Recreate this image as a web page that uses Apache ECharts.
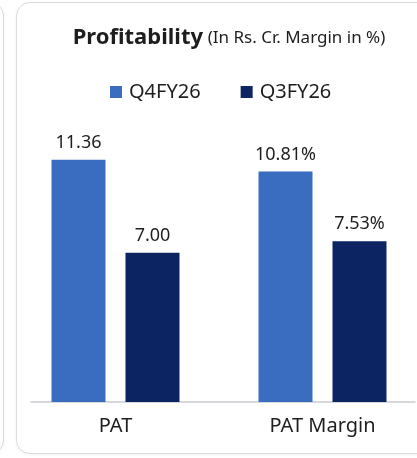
<!DOCTYPE html>
<html>
<head>
<meta charset="utf-8">
<title>Profitability</title>
<script src="https://cdn.jsdelivr.net/npm/echarts@6.0.0/dist/echarts.min.js"></script>
<style>
    html, body {
        margin: 0;
        padding: 0;
        background: #fff;
        overflow: hidden;
    }
    .card {
        position: absolute;
        background: #fff;
        border: 1.5px solid #d8dce2;
        border-radius: 14px;
        box-shadow: 0 1px 3px rgba(0,0,0,0.06);
    }
    #main {
        position: absolute;
        left: 0;
        top: 0;
        width: 417px;
        height: 458px;
    }
</style>
</head>
<body>
<div class="card" style="left:-400px;top:2px;width:402px;height:450px;"></div>
<div class="card" style="left:16px;top:2px;width:430px;height:450px;"></div>
<div id="main"></div>
<script>
    // data
    var categories = ['PAT', 'PAT Margin'];
    var q4Values = [11.36, 10.81];
    var q3Values = [7.00, 7.53];
    var labelSuffix = ['', '%'];
    var seriesNames = ['Q4FY26', 'Q3FY26'];

    var chart = echarts.init(document.getElementById('main'));

    function valueLabel(p) {
        return p.value.toFixed(2) + labelSuffix[p.dataIndex];
    }

    var option = {
        backgroundColor: 'transparent',
        textStyle: { fontFamily: '"Noto Sans", sans-serif' },
        title: {
            text: '{b|Profitability} {s|(In Rs. Cr. Margin in %)}',
            left: 224,
            top: 22,
            textAlign: 'center',
            textStyle: {
                fontWeight: 'normal',
                rich: {
                    b: { fontSize: 22, fontWeight: 'bold', color: '#1e1e1e', fontFamily: '"Noto Sans", sans-serif' },
                    s: { fontSize: 17, fontWeight: 'normal', color: '#1e1e1e', fontFamily: '"Noto Sans", sans-serif' }
                }
            }
        },
        legend: {
            data: seriesNames,
            left: 105,
            top: 77,
            icon: 'rect',
            itemWidth: 12,
            itemHeight: 12,
            itemGap: 40,
            textStyle: { fontSize: 20, color: '#1e1e1e', padding: [0, 0, 0, 2] }
        },
        grid: [
            { left: 12, width: 414, top: 146, bottom: 56, outerBoundsMode: 'none' },
            { left: 31, right: 2, top: 146, bottom: 56, outerBoundsMode: 'none' }
        ],
        xAxis: [
            {
                type: 'category',
                gridIndex: 0,
                data: categories,
                axisLine: { show: false },
                axisTick: { show: false },
                axisLabel: { fontSize: 20, color: '#1e1e1e', margin: 14 }
            },
            {
                type: 'value',
                gridIndex: 1,
                min: 0,
                max: 1,
                axisLine: { show: true, onZero: false, lineStyle: { color: '#c9ccd1', width: 1.5 } },
                axisTick: { show: false },
                axisLabel: { show: false },
                splitLine: { show: false }
            }
        ],
        yAxis: [
            { type: 'value', gridIndex: 0, min: 0, max: 12, show: false },
            { type: 'value', gridIndex: 1, min: 0, max: 1, show: false }
        ],
        series: [
            {
                name: seriesNames[0],
                type: 'bar',
                data: q4Values,
                barWidth: 54,
                barGap: '37%',
                itemStyle: { color: '#3a6dc0' },
                label: {
                    show: true,
                    position: 'top',
                    distance: 8,
                    fontSize: 18,
                    color: '#1e1e1e',
                    formatter: valueLabel
                }
            },
            {
                name: seriesNames[1],
                type: 'bar',
                data: q3Values,
                barWidth: 54,
                barGap: '37%',
                itemStyle: { color: '#0c2461' },
                label: {
                    show: true,
                    position: 'top',
                    distance: 8,
                    fontSize: 18,
                    color: '#1e1e1e',
                    formatter: valueLabel
                }
            }
        ]
    };

    chart.setOption(option);
</script>
</body>
</html>
